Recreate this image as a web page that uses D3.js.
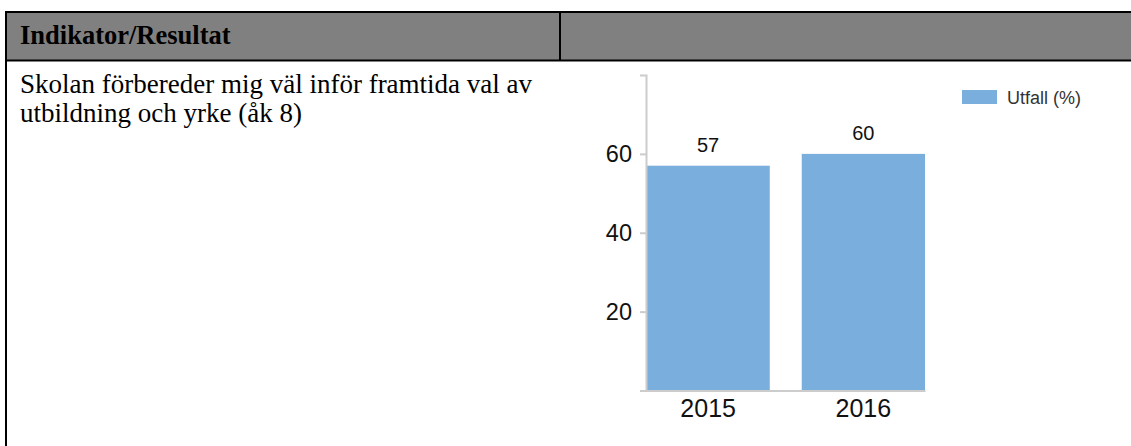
<!DOCTYPE html>
<html>
<head>
<meta charset="utf-8">
<script src="https://cdn.jsdelivr.net/npm/d3@7"></script>
<style>
  html, body { margin: 0; padding: 0; background: #fff; }
  svg { display: block; }
</style>
</head>
<body>
<div id="chart"></div>
<script>
// table texts
var headerText = "Indikator/Resultat";
var indicatorLines = ["Skolan förbereder mig väl inför framtida val av", "utbildning och yrke (åk 8)"];

// chart data
var years = ["2015", "2016"];
var values = [57, 60];
var yTicks = [20, 40, 60];
var seriesName = "Utfall (%)";

var W = 1131, H = 446;
var svg = d3.select("#chart").append("svg")
    .attr("width", W)
    .attr("height", H);

// ---- table frame ----
svg.append("rect") // header band
    .attr("x", 6).attr("y", 12)
    .attr("width", W - 6).attr("height", 48.5)
    .attr("fill", "#808080");

var border = function(x1, y1, x2, y2){
  svg.append("line")
      .attr("x1", x1).attr("y1", y1)
      .attr("x2", x2).attr("y2", y2)
      .attr("stroke", "#000")
      .attr("stroke-width", 2);
};
border(5, 12, W, 12);
border(5, 60.5, W, 60.5);
border(6, 11, 6, H);
border(560, 12, 560, 60.5);

svg.append("text")
    .attr("x", 20).attr("y", 44)
    .attr("font-family", "'Liberation Serif', 'Times New Roman', serif")
    .attr("font-weight", "bold")
    .attr("font-size", 26.5)
    .attr("fill", "#000")
    .text(headerText);

svg.selectAll(".indicator").data(indicatorLines).enter().append("text")
    .attr("class", "indicator")
    .attr("x", 20)
    .attr("y", function(d, i){ return 93 + i * 29; })
    .attr("font-family", "'Liberation Serif', 'Times New Roman', serif")
    .attr("font-size", 27)
    .attr("fill", "#000")
    .text(function(d){ return d; });

// ---- bar chart ----
var y = d3.scaleLinear().domain([0, 80]).range([390.5, 75]);
var x = d3.scaleBand().domain(years).range([646.5, 925]).paddingInner(0.206).paddingOuter(0);

var g = svg.append("g");

g.selectAll(".bar").data(values).enter().append("rect")
    .attr("class", "bar")
    .attr("x", function(d, i){ return x(years[i]); })
    .attr("y", function(d){ return y(d); })
    .attr("width", x.bandwidth())
    .attr("height", function(d){ return y(0) - y(d); })
    .attr("fill", "#7aafdd");

g.selectAll(".val").data(values).enter().append("text")
    .attr("class", "val")
    .attr("x", function(d, i){ return x(years[i]) + x.bandwidth() / 2; })
    .attr("y", function(d){ return y(d) - 14; })
    .attr("text-anchor", "middle")
    .attr("font-family", "'Liberation Sans', Arial, sans-serif")
    .attr("font-size", 20)
    .attr("fill", "#111")
    .text(function(d){ return d; });

var yAxis = g.append("g")
    .attr("transform", "translate(646,0)")
    .call(d3.axisLeft(y).tickValues(yTicks).tickSize(6).tickSizeOuter(6).tickPadding(8));

var xAxis = g.append("g")
    .attr("transform", "translate(0,390.5)")
    .call(d3.axisBottom(x).tickSize(0).tickPadding(9));

[yAxis, xAxis].forEach(function(a){
  a.selectAll("path, line").attr("stroke", "#ccc").attr("stroke-width", 2);
  a.selectAll("text")
      .attr("fill", "#111")
      .attr("font-family", "'Liberation Sans', Arial, sans-serif");
});
yAxis.selectAll("text").attr("font-size", 23.5);
xAxis.selectAll("text").attr("font-size", 25);

// legend
var legend = svg.selectAll(".legend").data([seriesName]).enter().append("g")
    .attr("class", "legend")
    .attr("transform", "translate(962,90)");
legend.append("rect")
    .attr("width", 35).attr("height", 14)
    .attr("fill", "#7aafdd");
legend.append("text")
    .attr("x", 45).attr("y", 13.5)
    .attr("font-family", "'Liberation Sans', Arial, sans-serif")
    .attr("font-size", 18)
    .attr("fill", "#333")
    .text(function(d){ return d; });
</script>
</body>
</html>
